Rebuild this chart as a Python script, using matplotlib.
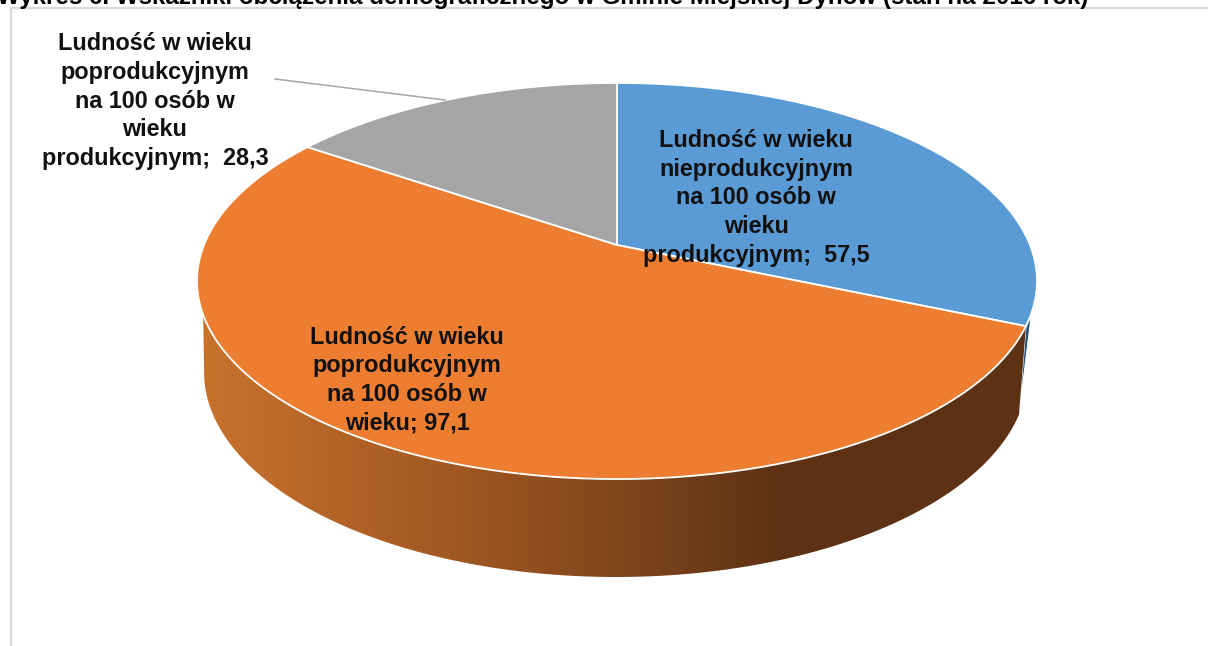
import numpy as np
import matplotlib
matplotlib.use("Agg")
import matplotlib.pyplot as plt
from matplotlib.patches import Polygon

# data
title = "Wykres 6. Wskaźniki obciążenia demograficznego w Gminie Miejskiej Dynów (stan na 2016 rok)"
labels = ["Ludność w wieku\nnieprodukcyjnym\nna 100 osób w\nwieku\nprodukcyjnym;  57,5",
          "Ludność w wieku\npoprodukcyjnym\nna 100 osób w\nwieku; 97,1",
          "Ludność w wieku\npoprodukcyjnym\nna 100 osób w\nwieku\nprodukcyjnym;  28,3"]
values = [57.5, 97.1, 28.3]
colors = ["#5B9BD5", "#ED7D31", "#A5A5A5"]

plt.rcParams["font.family"] = ["Liberation Sans", "DejaVu Sans"]
W, H = 1208, 646
fig = plt.figure(figsize=(W / 100, H / 100), dpi=100)
ax = fig.add_axes([0, 0, 1, 1])
ax.set_xlim(0, W)
ax.set_ylim(H, 0)
ax.axis("off")

# perspective layout of the pie disc
CX, CY, K, EX, EY = 617, 245, 0.1818, 413, 191.5


def rim(angle):
    """Clockwise angle from the top (radians) to picture position, in perspective."""
    u, v = np.sin(angle), np.cos(angle)
    d = 1 + K * v
    return np.column_stack([CX + EX * u / d, CY - EY * v / d])


def lower(t):
    """Lower rim of the pie wall; t is the clockwise angle from the top of that ellipse."""
    return np.column_stack([616 + 412 * np.sin(t), 372 - 205 * np.cos(t)])


edges = np.concatenate([[0], np.cumsum(values) / np.sum(values) * 2 * np.pi])
blue_end = edges[1]

# walls
top_right = np.radians(98)
low_start = np.radians(102)
blue_wall = np.vstack([rim(np.linspace(top_right, blue_end, 20)),
                       lower(np.array([low_start]))])
ax.add_patch(Polygon(blue_wall, closed=True, fc="#23527C", ec="white", lw=0.8, zorder=1))

front_top = rim(np.linspace(blue_end, np.radians(250), 200))
front_low = lower(np.linspace(np.radians(268), low_start, 200))
wall = np.vstack([front_top, front_low])
grad_x = [200, 450, 620, 780, 1040]
grad_rgb = np.array([[200, 115, 45], [162, 88, 34], [128, 70, 28], [93, 49, 20], [93, 49, 20]]) / 255
xs = np.arange(190, 1045)
img = np.stack([np.interp(xs, grad_x, grad_rgb[:, i]) for i in range(3)], axis=-1)[None, :, :]
im = ax.imshow(img, extent=(190, 1045, 585, 270), aspect="auto", zorder=2, interpolation="bilinear")
clip = Polygon(wall, closed=True, transform=ax.transData, fc="none", ec="none")
ax.add_patch(clip)
im.set_clip_path(clip)
ax.set_xlim(0, W)
ax.set_ylim(H, 0)

# top slices
for a, b, c in zip(edges[:-1], edges[1:], colors):
    arc = rim(np.linspace(a, b, 300))
    ax.add_patch(Polygon(np.vstack([[CX, CY], arc]), closed=True, fc=c, ec="white",
                         lw=1.3, joinstyle="round", zorder=3))

# frame
ax.plot([11, 11, W], [H, 8, 8], color="#DADADA", lw=1.6, zorder=0, solid_joinstyle="miter")

# leader line
ax.plot([275, 445], [79, 100], color="#A6A6A6", lw=1.1, zorder=4)

# labels
label_pos = [(756, 198), (407, 380), (155, 101)]
for (x, y), s in zip(label_pos, labels):
    ax.text(x, y, s, ha="center", va="center", fontsize=16.8, fontweight="bold",
            color="#111111", linespacing=1.31, zorder=5, clip_on=False)

ax.text(-3, 4, title, ha="left", va="baseline", fontsize=17.4, fontweight="bold",
        color="black", zorder=5)

fig.savefig("out.png", dpi=100)
